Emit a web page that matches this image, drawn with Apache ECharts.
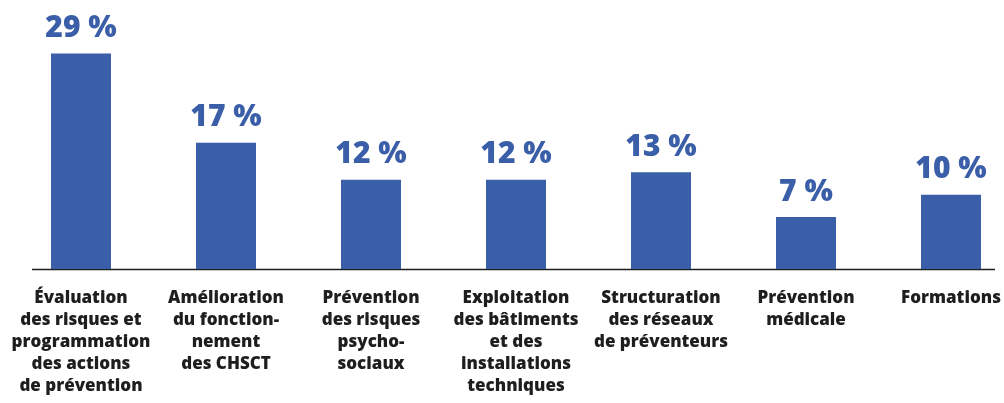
<!DOCTYPE html>
<html>
<head>
<meta charset="utf-8">
<script src="https://cdn.jsdelivr.net/npm/echarts@6/dist/echarts.min.js"></script>
<style>
  html, body { margin: 0; padding: 0; background: #fff; }
  #chart { width: 1004px; height: 403px; }
</style>
</head>
<body>
<div id="chart"></div>
<script>
const categories = [
  "Évaluation\ndes risques et\nprogrammation\ndes actions\nde prévention",
  "Amélioration\ndu fonction-\nnement\ndes CHSCT",
  "Prévention\ndes risques\npsycho-\nsociaux",
  "Exploitation\ndes bâtiments\net des\ninstallations\ntechniques",
  "Structuration\ndes réseaux\nde préventeurs",
  "Prévention\nmédicale",
  "Formations"
];
const values = [29, 17, 12, 12, 13, 7, 10];

const blue = "#3a5ea8";
const chart = echarts.init(document.getElementById("chart"));
chart.setOption({
  animation: false,
  grid: { left: 8.5, width: 1015, top: 46, bottom: 134, outerBoundsMode: "none", containLabel: false },
  xAxis: {
    type: "category",
    data: categories,
    axisLine: { show: false },
    axisTick: { show: false },
    axisLabel: {
      interval: 0,
      margin: 18,
      color: "#1e1e1e",
      fontFamily: "Open Sans",
      fontWeight: 800,
      fontSize: 17,
      lineHeight: 22
    }
  },
  yAxis: {
    type: "value",
    min: 0,
    max: 30,
    show: false
  },
  series: [{
    type: "bar",
    data: values,
    barWidth: 60,
    itemStyle: { color: blue },
    label: {
      show: true,
      position: "top",
      distance: 10,
      formatter: "{c} %",
      color: blue,
      fontFamily: "Open Sans",
      fontWeight: 800,
      fontSize: 30
    }
  }],
  graphic: [{
    type: "line",
    shape: { x1: 32, y1: 269.5, x2: 995, y2: 269.5 },
    style: { stroke: "#1e1e1e", lineWidth: 1.5 }
  }]
});
</script>
</body>
</html>
